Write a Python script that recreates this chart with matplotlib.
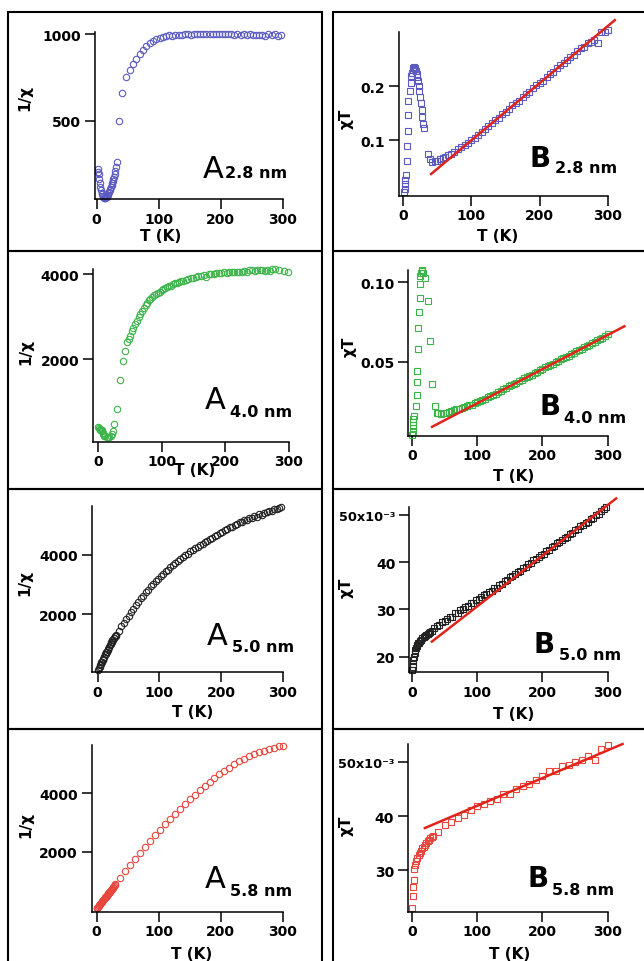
import numpy as np
import matplotlib
matplotlib.use("Agg")
import matplotlib.pyplot as plt
from matplotlib.patches import Rectangle

plt.rcParams['font.family'] = ['DejaVu Sans']
plt.rcParams['font.weight'] = 'bold'

W, H = 644, 962

# ---------------- data ----------------
# A 2.8 nm : 1/chi vs T
a28_T = [2, 2.5, 3, 4, 5, 6, 7, 8, 9, 10, 11, 12, 13, 14, 15, 16, 17, 18, 19, 20,
         21, 22, 23, 24, 25, 26, 27, 28, 29, 30, 31, 32,
         36, 41, 47, 53, 58, 64, 70, 75, 80, 86, 91, 96, 102, 107, 112, 117, 122,
         127, 132, 137, 142, 147, 152, 157, 162, 167, 172, 177, 182, 187, 192, 197,
         202, 207, 212, 217, 222, 227, 232, 237, 242, 247, 252, 257, 262, 267, 272,
         277, 282, 287, 292, 297]
a28_v = [222, 205, 190, 165, 140, 118, 100, 85, 75, 66, 60, 56, 54, 55, 58, 62, 67, 74, 82, 90,
         98, 108, 118, 128, 138, 150, 162, 176, 192, 210, 235, 262,
         500, 660, 750, 790, 825, 855, 885, 908, 930, 950, 962, 972, 980, 985, 990, 992, 986,
         993, 996, 995, 998, 1000, 997, 1001, 999, 1002, 998, 1000, 1001, 999, 1000, 1002,
         998, 1001, 999, 1000, 997, 1001, 996, 999, 994, 998, 993, 997, 992, 996, 990,
         1003, 993, 1000, 988, 992]

# B 2.8 nm : chi*T vs T
b28_T = [2, 2.5, 3, 3.5, 4, 5.5, 6, 6.5, 7, 7.5, 10, 11, 12, 13, 14, 15, 16, 17, 18, 19,
         20, 21, 22, 23, 24, 25, 26, 27, 28, 29, 30,
         37, 40, 43, 46, 50, 54, 58, 62, 66, 70, 75, 80, 85, 90, 95,
         100, 105, 110, 115, 120, 125, 130, 135, 140, 145, 150, 155, 160, 165, 170,
         175, 180, 185, 190, 195, 200, 205, 210, 215, 220, 225, 230, 235, 240, 245,
         250, 255, 260, 265, 270, 275, 280, 285, 290, 295, 300]
b28_v = [0.003, 0.010, 0.018, 0.026, 0.035, 0.062, 0.088, 0.116, 0.146, 0.172, 0.190, 0.205,
         0.218, 0.225, 0.230, 0.234, 0.236, 0.234, 0.232, 0.228, 0.222, 0.216, 0.210, 0.200,
         0.190, 0.180, 0.168, 0.155, 0.142, 0.130, 0.122,
         0.074, 0.064, 0.060, 0.061, 0.062, 0.064, 0.067, 0.069, 0.072, 0.075, 0.078, 0.083,
         0.087, 0.091, 0.095,
         0.100, 0.104, 0.109, 0.115, 0.120, 0.126, 0.131, 0.137, 0.141, 0.148, 0.152, 0.158,
         0.164, 0.168, 0.173, 0.180, 0.185, 0.189, 0.196, 0.201, 0.206, 0.210, 0.217, 0.222,
         0.226, 0.233, 0.238, 0.242, 0.249, 0.254, 0.258, 0.265, 0.270, 0.273, 0.279, 0.282,
         0.286, 0.279, 0.300, 0.300, 0.303]
b28_fit_T = [41, 310]
b28_fit_v = [0.037, 0.322]

# A 4.0 nm
a40_T = [1, 2, 3, 4, 5, 6, 7, 8, 9, 10, 12, 14, 16, 18, 20, 22, 24, 26, 30, 35, 40, 43,
         46, 49, 51, 54, 56, 59, 61, 64, 66, 69, 72, 75, 77, 80, 82, 85, 88, 91, 94, 97,
         100, 103, 106, 109, 112, 115, 118, 121, 124, 127, 130, 134, 138, 142, 146, 150,
         154, 158, 162, 166, 170, 174, 178, 182, 186, 190, 194, 198, 202, 206, 210, 214,
         218, 222, 226, 230, 234, 238, 242, 246, 250, 254, 258, 262, 266, 270, 274, 278,
         284, 292, 298]
a40_v = [400, 380, 350, 330, 320, 340, 300, 260, 230, 200, 180, 170, 165, 170, 190, 230, 300,
         480, 830, 1500, 1960, 2200, 2390, 2470, 2550, 2650, 2720, 2820, 2900, 2990, 3060,
         3140, 3210, 3280, 3330, 3380, 3420, 3460, 3500, 3540, 3560, 3590, 3620, 3640, 3670,
         3700, 3720, 3730, 3760, 3780, 3790, 3810, 3830, 3840, 3860, 3880, 3900, 3910, 3930,
         3950, 3960, 3980, 3920, 4000, 4010, 4000, 4020, 4030, 4020, 4040, 4030, 4050, 4040,
         4060, 4040, 4060, 4050, 4070, 4060, 4090, 4100, 4080, 4090, 4100, 4090, 4080, 4100,
         4070, 4110, 4120, 4090, 4080, 4060]

# B 4.0 nm
b40_T = [0.5, 0.8, 1, 1.2, 1.5, 2, 2.5, 6.7, 7.2, 7.8, 8.3, 8.8, 9.2, 10, 11.8, 12.8, 13,
         14, 15, 16, 17, 19.5, 24.6, 27, 31, 35, 38, 40, 44, 48, 52, 56, 60, 64, 68, 72,
         76, 80, 84, 88, 92, 96, 100,
         104, 108, 112, 116, 120, 124, 128, 132, 136, 140, 144, 148, 152, 156, 160, 164,
         168, 172, 176, 180, 184, 188, 192, 196, 200, 204, 208, 212, 216, 220, 224, 228,
         232, 236, 240, 244, 248, 252, 256, 260, 264, 268, 272, 276, 280, 284, 288, 292,
         296, 300]
b40_v = [0.004, 0.006, 0.008, 0.010, 0.012, 0.014, 0.016, 0.022, 0.029, 0.037, 0.044, 0.058,
         0.071, 0.081, 0.090, 0.099, 0.104, 0.106, 0.108, 0.107, 0.106, 0.103, 0.088, 0.063,
         0.036, 0.022, 0.018, 0.0175, 0.017, 0.0175, 0.018, 0.0185, 0.019, 0.0195, 0.020,
         0.0205, 0.021, 0.0215, 0.022, 0.0225, 0.023, 0.024, 0.0245,
         0.0252, 0.0258, 0.0266, 0.0275, 0.0283, 0.0292, 0.0299, 0.0310, 0.0317, 0.0326,
         0.0333, 0.0344, 0.0351, 0.0360, 0.0367, 0.0378, 0.0385, 0.0395, 0.0401, 0.0412,
         0.0419, 0.0430, 0.0436, 0.0447, 0.0453, 0.0464, 0.0470, 0.0481, 0.0487, 0.0498,
         0.0504, 0.0516, 0.0521, 0.0532, 0.0539, 0.0549, 0.0556, 0.0567, 0.0573, 0.0583,
         0.0590, 0.0601, 0.0607, 0.0618, 0.0624, 0.0636, 0.0641, 0.0652, 0.0659, 0.0672]
b40_fit_T = [30.8, 325.6]
b40_fit_v = [0.009, 0.0723]

# A 5.0 nm
a50_T = [1, 2, 3, 4, 5, 6, 7, 8, 9, 10, 11, 12, 13, 14, 15, 16, 17, 18, 19, 20, 21, 22,
         23, 24, 25, 26, 27, 28, 29, 30,
         34, 38, 42, 46, 50, 54, 58, 62, 66, 70, 74, 78, 82, 86, 90, 94, 98, 102, 106,
         110, 114, 118, 122, 126, 130, 134, 138, 142, 146, 150, 154, 158, 162, 166, 170,
         174, 178, 182, 186, 190, 194, 198, 202, 206, 210, 214, 218, 222, 226, 230, 234,
         238, 242, 246, 250, 254, 258, 262, 266, 270, 274, 278, 282, 286, 290, 294, 298]
a50_v = [110, 190, 210, 280, 300, 370, 390, 460, 480, 540, 560, 640, 650, 720, 730, 800, 820,
         890, 900, 960, 980, 1040, 1050, 1110, 1120, 1180, 1190, 1250, 1260, 1300,
         1440, 1590, 1700, 1840, 1940, 2080, 2180, 2310, 2400, 2530, 2620, 2740, 2820, 2930,
         3000, 3110, 3180, 3280, 3340, 3440, 3500, 3590, 3640, 3730, 3780, 3870, 3910, 3990,
         4030, 4110, 4150, 4220, 4250, 4320, 4360, 4430, 4460, 4530, 4570, 4640, 4670, 4740,
         4770, 4840, 4870, 4930, 4950, 5010, 5030, 5090, 5110, 5160, 5180, 5230, 5250, 5300,
         5280, 5360, 5340, 5420, 5430, 5470, 5480, 5530, 5530, 5590, 5600]

# B 5.0 nm (x 1e-3)
b50_T = [0.5, 1, 1.5, 2, 3, 4, 5, 6, 7, 8, 9, 10, 12, 14, 16, 18, 20, 22, 24, 26, 28, 30,
         34, 38, 42, 46, 50, 54, 58, 62, 66, 70, 74, 78, 82, 86, 90, 94, 98, 102, 106, 110,
         114, 118, 122, 126, 130, 134, 138, 142, 146, 150, 154, 158, 162, 166, 170, 174,
         178, 182, 186, 190, 194, 198, 202, 206, 210, 214, 218, 222, 226, 230, 234, 238,
         242, 246, 250, 254, 258, 262, 266, 270, 274, 278, 282, 286, 290, 294, 298]
b50_v = [17.2, 17.8, 18.5, 19.2, 20.0, 20.8, 21.4, 21.9, 22.2, 22.5, 22.8, 23.0, 23.3, 23.6,
         23.9, 24.1, 24.3, 24.5, 24.8, 25.0, 25.2, 25.5,
         26.1, 26.6, 26.7, 27.4, 27.5, 28.0, 28.4, 28.5, 29.2, 29.3, 29.9, 30.0, 30.6, 30.8,
         31.3, 31.4, 32.0, 32.2, 32.6, 33.1, 33.2, 33.8, 34.0, 34.5, 34.6, 35.2, 35.4, 36.0,
         36.2, 36.8, 37.1, 37.4, 38.0, 38.2, 38.8, 39.0, 39.6, 39.8, 40.4, 40.7, 41.0, 41.6,
         41.8, 42.4, 42.6, 43.2, 43.4, 44.0, 44.3, 44.6, 45.2, 45.4, 46.0, 46.2, 46.8, 47.0,
         47.6, 47.8, 48.4, 48.6, 49.2, 49.4, 50.0, 50.2, 50.8, 51.2, 51.6]
b50_fit_T = [30.5, 313]
b50_fit_v = [23.2, 53.5]

# A 5.8 nm
a58_T = [0.5, 1, 2, 3, 4, 5, 6, 7, 8, 9, 10, 11, 12, 13, 14, 15, 16, 17, 18, 19, 20, 21,
         22, 23, 24, 25, 26, 27, 28, 29, 30,
         38, 46, 54, 62, 70, 78, 86, 94, 102, 110, 118, 126, 134, 142, 150, 158, 166, 174,
         182, 190, 198, 206, 214, 222, 230, 238, 246, 254, 262, 270, 278, 286, 294, 300]
a58_v = [60, 80, 110, 140, 165, 195, 220, 250, 275, 300, 330, 355, 380, 410, 435, 460, 490,
         515, 540, 570, 600, 625, 650, 680, 710, 735, 760, 790, 820, 850, 880,
         1110, 1330, 1540, 1750, 1960, 2160, 2360, 2560, 2750, 2940, 3120, 3300, 3470, 3640,
         3800, 3950, 4100, 4250, 4390, 4520, 4650, 4770, 4880, 4990, 5090, 5180, 5260, 5330,
         5400, 5460, 5510, 5560, 5610, 5630]

# B 5.8 nm (x 1e-3)
b58_T = [0.5, 1, 1.5, 2.5, 3.5, 5, 6.5, 8, 10, 12, 14, 16, 18, 20, 22, 24, 26, 28, 30, 32,
         40, 50, 60, 70, 80, 90, 100, 110, 120, 130, 140, 150, 160, 170, 180, 190, 200,
         210, 220, 230, 240, 250, 260, 270, 280, 290, 300]
b58_v = [23.0, 25.2, 26.8, 28.1, 30.2, 31.0, 31.6, 32.2, 32.8, 33.2, 33.5, 34.0, 34.3, 34.7,
         35.0, 35.3, 35.6, 35.9, 36.2, 36.4,
         37.1, 38.4, 39.0, 39.6, 40.2, 41.2, 41.9, 42.2, 42.8, 43.2, 44.1, 44.2, 45.0, 45.6,
         46.0, 46.7, 47.4, 48.3, 48.4, 49.3, 49.5, 50.0, 50.5, 51.1, 50.4, 52.4, 53.3]
b58_fit_T = [19.7, 322.8]
b58_fit_v = [37.8, 53.4]

BLUE = '#5a5ac2'
GREEN = '#3cb44a'
BLACK = '#222222'
RED = '#e8463c'
FIT = '#e0231b'

fig = plt.figure(figsize=(W / 100, H / 100), dpi=100)


def fx(x):
    return x / W


def fy(y):
    return 1 - y / H


def add_ax(left, top, right, bottom):
    ax = fig.add_axes([fx(left), fy(bottom), (right - left) / W, (bottom - top) / H])
    ax.patch.set_alpha(0)
    for s in ['top', 'right']:
        ax.spines[s].set_visible(False)
    for s in ['left', 'bottom']:
        ax.spines[s].set_linewidth(1.1)
    ax.tick_params(direction='out', length=7, width=1.1, labelsize=10, pad=2)
    ax.tick_params(axis='y', pad=3)
    ax.set_xticks([0, 100, 200, 300])
    return ax


# panel frames
for top, bot in [(13, 252), (252, 490), (490, 730), (730, 970)]:
    fig.add_artist(Rectangle((fx(8), fy(bot)), (322 - 8) / W, (bot - top) / H,
                             transform=fig.transFigure, fill=False, lw=1.5, ec='black'))
    fig.add_artist(Rectangle((fx(333), fy(bot)), (652 - 333) / W, (bot - top) / H,
                             transform=fig.transFigure, fill=False, lw=1.5, ec='black'))


def circles(ax, T, v, c):
    ax.plot(T, v, 'o', ms=4.6, mfc='none', mec=c, mew=0.8, clip_on=False)


def squares(ax, T, v, c):
    ax.plot(T, v, 's', ms=3.7, mfc='none', mec=c, mew=0.8, clip_on=False)


def fit(ax, T, v):
    ax.plot(T, v, '-', color=FIT, lw=1.8, clip_on=False)


def labels(letter, sub, lx, ly, sx, sy, bold, big):
    fig.text(fx(lx), fy(ly), letter, fontsize=big, va='baseline', ha='left',
             fontweight='bold' if bold else 'normal')
    fig.text(fx(sx), fy(sy), sub, fontsize=11.5, va='baseline', ha='left',
             fontweight='bold')


def axlabels(xl_x, xl_y, yl_x, yl_y, ylab):
    fig.text(fx(xl_x), fy(xl_y), 'T (K)', fontsize=11, ha='center', va='top')
    fig.text(fx(yl_x), fy(yl_y), ylab, fontsize=11, ha='center', va='center', rotation=90)


# A 2.8 nm
ax = add_ax(94.8, 33.3, 282.7, 200.1)
circles(ax, a28_T, a28_v, BLUE)
ax.set_xlim(-3, 300)
ax.set_ylim(48, 1010)
ax.set_yticks([500, 1000])
labels('A', '2.8 nm', 203, 178, 225, 178, False, 22)
axlabels(161, 229, 25, 98, '1/χ')

# B 2.8 nm
ax = add_ax(399, 33, 608, 197)
squares(ax, b28_T, b28_v, BLUE)
fit(ax, b28_fit_T, b28_fit_v)
ax.set_xlim(-6, 300)
ax.set_ylim(-0.0037, 0.30)
ax.set_yticks([0.1, 0.2])
ax.set_yticklabels(['0.1', '0.2'])
labels('B', '2.8 nm', 530, 167, 555, 173, True, 20)
axlabels(498, 229, 346, 119, 'χT')

# A 4.0 nm
ax = add_ax(93.3, 270, 289, 442.7)
circles(ax, a40_T, a40_v, GREEN)
ax.set_xlim(-7, 300)
ax.set_ylim(55, 4120)
ax.set_yticks([2000, 4000])
labels('A', '4.0 nm', 205, 409, 230, 417, False, 22)
axlabels(195, 463, 26, 352, '1/χ')

# B 4.0 nm
ax = add_ax(408.1, 270.6, 607.7, 436.7)
squares(ax, b40_T, b40_v, GREEN)
fit(ax, b40_fit_T, b40_fit_v)
ax.set_xlim(-6, 300)
ax.set_ylim(0.0034, 0.108)
ax.set_yticks([0.05, 0.10])
ax.set_yticklabels(['0.05', '0.10'])
labels('B', '4.0 nm', 539, 415, 564, 423, True, 20)
axlabels(514, 469, 349, 347, 'χT')

# A 5.0 nm
ax = add_ax(91.7, 506.8, 282.7, 673.3)
circles(ax, a50_T, a50_v, BLACK)
ax.set_xlim(-9.7, 300)
ax.set_ylim(34, 5650)
ax.set_yticks([2000, 4000])
labels('A', '5.0 nm', 207, 645, 232, 652, False, 22)
axlabels(193, 705, 25, 583, '1/χ')

# B 5.0 nm
ax = add_ax(409.4, 508.4, 607.7, 673.3)
squares(ax, b50_T, b50_v, BLACK)
fit(ax, b50_fit_T, b50_fit_v)
ax.set_xlim(-4, 300)
ax.set_ylim(16.7, 51.6)
ax.set_yticks([20, 30, 40, 50])
ax.set_yticklabels(['20', '30', '40', '50x10⁻³'])
ax.get_yticklabels()[-1].set_fontsize(9.3)
labels('B', '5.0 nm', 534, 653, 559, 660, True, 20)
axlabels(514, 707, 346, 588, 'χT')

# A 5.8 nm
ax = add_ax(91.7, 746.1, 282.7, 912.7)
circles(ax, a58_T, a58_v, RED)
ax.set_xlim(-8, 300)
ax.set_ylim(-55, 5650)
ax.set_yticks([2000, 4000])
labels('A', '5.8 nm', 205, 888, 230, 896, False, 22)
axlabels(192, 947, 26, 825, '1/χ')

# B 5.8 nm
ax = add_ax(408.1, 745, 607.7, 912.5)
squares(ax, b58_T, b58_v, RED)
fit(ax, b58_fit_T, b58_fit_v)
ax.set_xlim(-6, 300)
ax.set_ylim(22.3, 53.4)
ax.set_yticks([30, 40, 50])
ax.set_yticklabels(['30', '40', '50x10⁻³'])
ax.get_yticklabels()[-1].set_fontsize(9.3)
labels('B', '5.8 nm', 527, 887, 552, 895, True, 20)
axlabels(510, 947, 346, 826, 'χT')

fig.savefig('out.png', dpi=100)
